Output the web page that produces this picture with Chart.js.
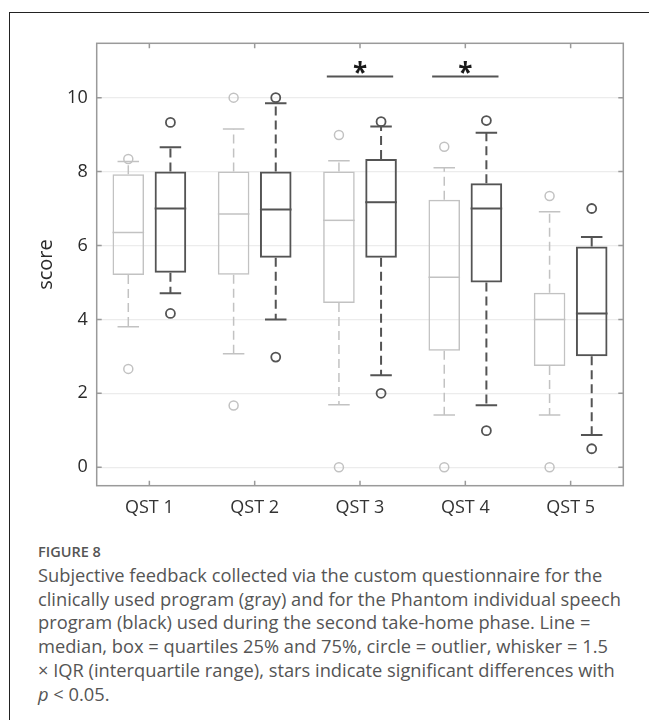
<!DOCTYPE html>
<html>
<head>
<meta charset="utf-8">
<script src="https://cdn.jsdelivr.net/npm/chart.js@4/dist/chart.umd.min.js"></script>
<style>
  html, body { margin: 0; padding: 0; background: #fff; }
  body { width: 649px; height: 720px; position: relative; overflow: hidden; }
  #frame { position: absolute; left: 9px; top: 12px; width: 700px; height: 760px;
           border-left: 1.5px solid #222; border-top: 1.5px solid #222; }
  #wrap { position: absolute; left: 0; top: 0; width: 649px; height: 520px; }
  #figlabel { position: absolute; left: 38px; top: 543px; font-family: "Open Sans", sans-serif;
              font-size: 14.5px; font-weight: 600; color: #555; line-height: 18px; }
  #caption { position: absolute; left: 38px; top: 563px; font-family: "Open Sans", sans-serif;
             font-size: 18.3px; color: #555; line-height: 23.7px; white-space: nowrap; }
</style>
</head>
<body>
<div id="frame"></div>
<div id="wrap"><canvas id="box_chart"></canvas></div>
<div id="figlabel">FIGURE 8</div>
<div id="caption">Subjective feedback collected via the custom questionnaire for the<br>clinically used program (gray) and for the Phantom individual speech<br>program (black) used during the second take-home phase. Line =<br>median, box = quartiles 25% and 75%, circle = outlier, whisker = 1.5<br>× IQR (interquartile range), stars indicate significant differences with<br><i>p</i> &lt; 0.05.</div>
<script>
var categories = ['QST 1', 'QST 2', 'QST 3', 'QST 4', 'QST 5'];
var y_ticks = [0, 2, 4, 6, 8, 10];

// clinically used program (gray)
var gray_q1 = [5.20, 5.21, 4.44, 3.15, 2.74];
var gray_median = [6.35, 6.85, 6.68, 5.14, 4.00];
var gray_q3 = [7.93, 8.00, 8.00, 7.24, 4.72];
var gray_low = [3.80, 3.07, 1.69, 1.41, 1.41];
var gray_high = [8.27, 9.15, 8.29, 8.10, 6.91];
var gray_outliers = [[8.34, 2.66], [10.0, 1.67], [8.99, 0], [8.67, 0], [7.34, 0]];

// Phantom individual speech program (black)
var black_q1 = [5.26, 5.67, 5.67, 5.00, 3.00];
var black_median = [7.00, 6.97, 7.17, 7.00, 4.16];
var black_q3 = [8.00, 8.00, 8.34, 7.68, 5.97];
var black_low = [4.71, 4.00, 2.49, 1.68, 0.87];
var black_high = [8.66, 9.85, 9.22, 9.05, 6.23];
var black_outliers = [[9.33, 4.16], [10.0, 2.98], [9.35, 2.00], [9.38, 0.99], [7.00, 0.50]];

// significance markers
var significant = ['QST 3', 'QST 4'];
var sig_level = 10.57;

var GRAY = '#c2c2c2';
var BLACK = '#545454';
var SHIFT = 0.2;  // gray box left of the category, black box right

function boxData(q1, q3, shift) {
  return q1.map(function(v, i) { return {x: i + shift, y: [v, q3[i]]}; });
}
function outlierPoints(list, shift) {
  var pts = [];
  list.forEach(function(vals, i) {
    vals.forEach(function(v) { pts.push({x: i + shift, y: v}); });
  });
  return pts;
}

var series = [
  {q1: gray_q1, med: gray_median, q3: gray_q3, low: gray_low, high: gray_high, color: GRAY, width: 1.5},
  {q1: black_q1, med: black_median, q3: black_q3, low: black_low, high: black_high, color: BLACK, width: 2}
];

var boxPlugin = {
  id: 'boxExtras',
  beforeDatasetsDraw: function(chart) {
    var ctx = chart.ctx, y = chart.scales.y;
    ctx.save();
    series.forEach(function(s, d) {
      var meta = chart.getDatasetMeta(d);
      meta.data.forEach(function(bar, i) {
        var cap = bar.width * 0.34;
        ctx.strokeStyle = s.color;
        ctx.lineWidth = s.width;
        ctx.setLineDash([9, 5]);
        ctx.beginPath();
        ctx.moveTo(bar.x, y.getPixelForValue(s.q3[i]));
        ctx.lineTo(bar.x, y.getPixelForValue(s.high[i]));
        ctx.moveTo(bar.x, y.getPixelForValue(s.q1[i]));
        ctx.lineTo(bar.x, y.getPixelForValue(s.low[i]));
        ctx.stroke();
        ctx.setLineDash([]);
        ctx.beginPath();
        ctx.moveTo(bar.x - cap, y.getPixelForValue(s.high[i]));
        ctx.lineTo(bar.x + cap, y.getPixelForValue(s.high[i]));
        ctx.moveTo(bar.x - cap, y.getPixelForValue(s.low[i]));
        ctx.lineTo(bar.x + cap, y.getPixelForValue(s.low[i]));
        ctx.stroke();
      });
    });
    ctx.restore();
  },
  afterDatasetsDraw: function(chart) {
    var ctx = chart.ctx, y = chart.scales.y, x = chart.scales.x;
    var a = chart.chartArea;
    ctx.save();
    // medians
    series.forEach(function(s, d) {
      var meta = chart.getDatasetMeta(d);
      meta.data.forEach(function(bar, i) {
        var py = y.getPixelForValue(s.med[i]);
        ctx.strokeStyle = s.color;
        ctx.lineWidth = s.width;
        ctx.beginPath();
        ctx.moveTo(bar.x - bar.width / 2, py);
        ctx.lineTo(bar.x + bar.width / 2, py);
        ctx.stroke();
      });
    });
    // significance bars and stars
    significant.forEach(function(cat) {
      var i = categories.indexOf(cat);
      var py = y.getPixelForValue(sig_level);
      ctx.strokeStyle = BLACK;
      ctx.lineWidth = 2;
      ctx.beginPath();
      ctx.moveTo(x.getPixelForValue(i - 0.315), py);
      ctx.lineTo(x.getPixelForValue(i + 0.315), py);
      ctx.stroke();
      ctx.fillStyle = '#1a1a1a';
      ctx.font = 'bold 26px "Open Sans"';
      ctx.textAlign = 'center';
      ctx.textBaseline = 'middle';
      ctx.fillText('*', x.getPixelForValue(i), py - 2);
    });
    // frame and inward ticks
    ctx.strokeStyle = '#9a9a9a';
    ctx.lineWidth = 1.5;
    ctx.strokeRect(a.left, a.top, a.right - a.left, a.bottom - a.top);
    ctx.beginPath();
    y_ticks.forEach(function(v) {
      var py = y.getPixelForValue(v);
      ctx.moveTo(a.left, py); ctx.lineTo(a.left + 5, py);
      ctx.moveTo(a.right, py); ctx.lineTo(a.right - 5, py);
    });
    categories.forEach(function(c, i) {
      var px = x.getPixelForValue(i);
      ctx.moveTo(px, a.top); ctx.lineTo(px, a.top + 5);
      ctx.moveTo(px, a.bottom); ctx.lineTo(px, a.bottom - 5);
    });
    ctx.stroke();
    ctx.restore();
  }
};

var chartdata = {
  datasets: [
    {
      label: 'Clinically used program',
      data: boxData(gray_q1, gray_q3, -SHIFT),
      backgroundColor: 'rgba(255,255,255,0)',
      borderColor: GRAY,
      borderWidth: 1.5,
      borderSkipped: false,
      grouped: false,
      categoryPercentage: 1,
      barPercentage: 0.75
    },
    {
      label: 'Phantom individual speech program',
      data: boxData(black_q1, black_q3, SHIFT),
      backgroundColor: 'rgba(255,255,255,0)',
      borderColor: BLACK,
      borderWidth: 2,
      borderSkipped: false,
      grouped: false,
      categoryPercentage: 1,
      barPercentage: 0.75
    },
    {
      type: 'scatter',
      label: 'Outliers (gray)',
      data: outlierPoints(gray_outliers, -SHIFT),
      pointRadius: 4.5,
      pointBorderWidth: 1.5,
      pointBorderColor: GRAY,
      pointBackgroundColor: 'rgba(255,255,255,0)'
    },
    {
      type: 'scatter',
      label: 'Outliers (black)',
      data: outlierPoints(black_outliers, SHIFT),
      pointRadius: 4.5,
      pointBorderWidth: 1.8,
      pointBorderColor: BLACK,
      pointBackgroundColor: 'rgba(255,255,255,0)'
    }
  ]
};

var ctx = document.getElementById('box_chart');

var boxGraph = new Chart(ctx, {
  type: 'bar',
  data: chartdata,
  plugins: [boxPlugin],
  options: {
    responsive: true,
    maintainAspectRatio: false,
    animation: false,
    layout: { padding: { top: 43.3, right: 25.7, bottom: 0.3, left: 0 } },
    plugins: { legend: { display: false }, tooltip: { enabled: false } },
    scales: {
      x: {
        type: 'linear',
        offset: false,
        min: -0.5,
        max: categories.length - 0.5,
        afterBuildTicks: function(axis) {
          axis.ticks = categories.map(function(c, i) { return {value: i}; });
        },
        grid: { display: false, drawTicks: false },
        border: { display: false },
        ticks: {
          color: '#333', padding: 11, font: { family: 'Open Sans', size: 18 },
          callback: function(v) { return categories[v]; }
        },
        afterFit: function(scale) { scale.height = 34; }
      },
      y: {
        min: -0.5,
        max: 11.47,
        afterBuildTicks: function(axis) {
          axis.ticks = y_ticks.map(function(v) { return {value: v}; });
        },
        grid: { color: '#ececec', lineWidth: 1.2, drawTicks: false },
        border: { display: false },
        ticks: { color: '#2a2a2a', padding: 9, font: { family: 'Open Sans', size: 18 } },
        title: { display: true, text: 'score', color: '#2a2a2a', padding: { top: 34, bottom: 0 },
                 font: { family: 'Open Sans', size: 20 } },
        afterFit: function(scale) { scale.width = 96.7; }
      }
    }
  }
});
</script>
</body>
</html>
